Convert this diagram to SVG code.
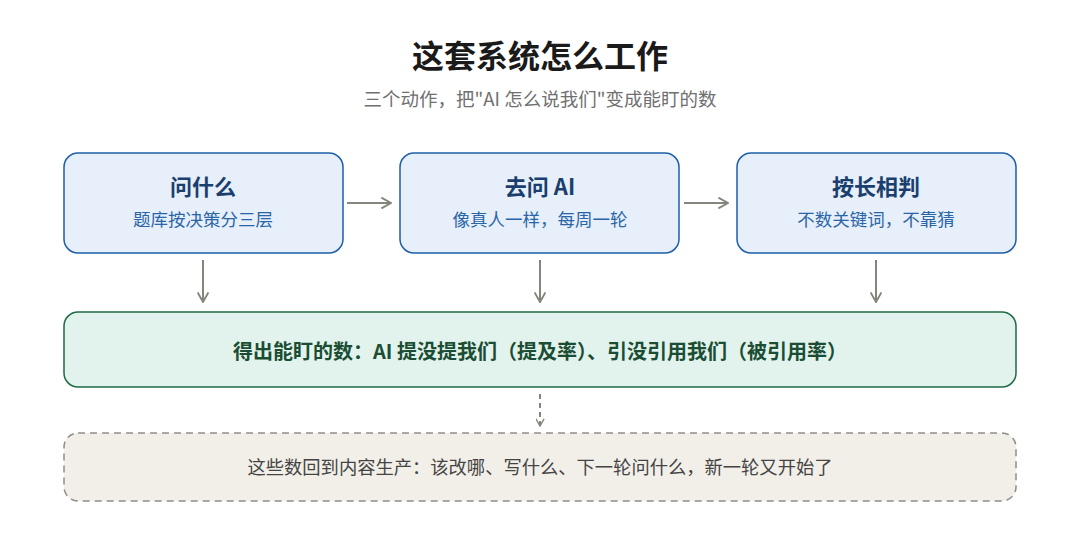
<svg xmlns="http://www.w3.org/2000/svg" width="1080" height="534" viewBox="0 0 1080 534">
<style>
text{font-family:"Noto Sans CJK SC","Noto Sans",sans-serif;text-anchor:middle}
.step{fill:#e7f0fa;stroke:#1d5ea8;stroke-width:1.5}
.h{font-size:22px;font-weight:700;fill:#1a3f6f}
.s{font-size:17.5px;fill:#2a65a8}
.c{stroke:#85857c;stroke-width:2;fill:none}
</style>
<defs><marker id="a" viewBox="0 0 10 10" refX="9" refY="5" markerWidth="9" markerHeight="9" markerUnits="userSpaceOnUse" orient="auto"><path d="M1,0.5 L9,5 L1,9.5" fill="none" stroke="#85857c" stroke-width="1.6"/></marker>
<marker id="b" viewBox="0 0 10 10" refX="9" refY="5" markerWidth="12" markerHeight="12" markerUnits="userSpaceOnUse" orient="auto"><path d="M1,0.5 L9,5 L1,9.5" fill="none" stroke="#85857c" stroke-width="1.6"/></marker></defs>
<rect width="1080" height="534" fill="#fff"/>
<text x="540" y="68" font-size="32" font-weight="700" fill="#1a1a1a">这套系统怎么工作</text>
<text x="540" y="106" font-size="18.5" fill="#707070">三个动作，把"AI 怎么说我们"变成能盯的数</text>
<g id="n1"><rect class="step" x="64" y="153" width="279" height="100" rx="14"/><text class="h" x="203" y="195">问什么</text><text class="s" x="203" y="226">题库按决策分三层</text></g>
<g id="n2"><rect class="step" x="400" y="153" width="279" height="100" rx="14"/><text class="h" x="540" y="195">去问 AI</text><text class="s" x="540" y="226">像真人一样，每周一轮</text></g>
<g id="n3"><rect class="step" x="737" y="153" width="279" height="100" rx="14"/><text class="h" x="876" y="195">按长相判</text><text class="s" x="876" y="226">不数关键词，不靠猜</text></g>
<g id="n4"><rect x="64" y="312" width="952" height="75" rx="14" fill="#e1f3ec" stroke="#1e6b45" stroke-width="1.5"/><text x="540" y="359" font-size="20" font-weight="700" fill="#1a4d33">得出能盯的数：AI 提没提我们（提及率）、引没引用我们（被引用率）</text></g>
<g id="n5"><rect x="64" y="433" width="952" height="68" rx="14" fill="#f2efe9" stroke="#8e8e8a" stroke-width="1.5" stroke-dasharray="7 5"/><text x="540" y="474" font-size="18.3" fill="#444">这些数回到内容生产：该改哪、写什么、下一轮问什么，新一轮又开始了</text></g>
<g id="connectors">
<line class="c" x1="347" y1="203" x2="391" y2="203" marker-end="url(#b)"/>
<line class="c" x1="684" y1="203" x2="728" y2="203" marker-end="url(#b)"/>
<line class="c" x1="203" y1="260" x2="203" y2="302" marker-end="url(#b)"/>
<line class="c" x1="540" y1="260" x2="540" y2="302" marker-end="url(#b)"/>
<line class="c" x1="876" y1="260" x2="876" y2="302" marker-end="url(#b)"/>
<line class="c" x1="540" y1="394" x2="540" y2="426" stroke-dasharray="5 4" marker-end="url(#a)"/>
</g>
</svg>
